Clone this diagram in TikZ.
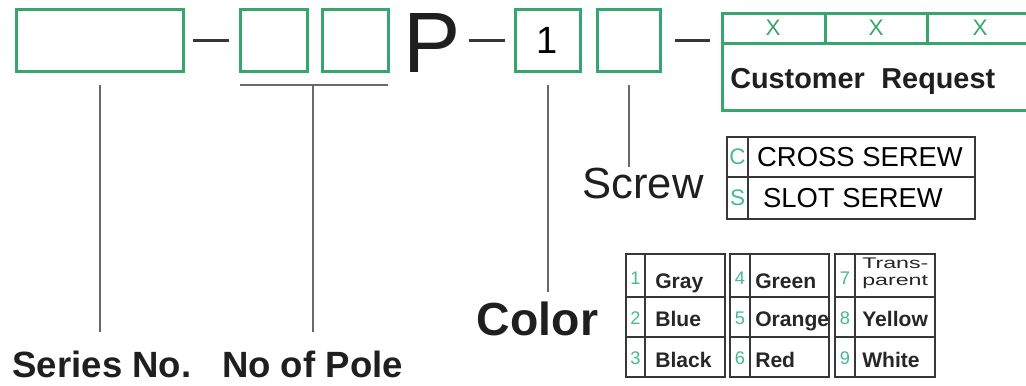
\documentclass[tikz,border=0pt]{standalone}
\usepackage{color}
\usepackage{graphicx}
\usepackage{fontspec}
\setmainfont{Liberation Sans}
\usepackage{tikz}
\definecolor{codegreen}{RGB}{55,165,110}
\definecolor{keygreen}{RGB}{70,185,145}
\definecolor{leadgray}{RGB}{105,105,105}
\definecolor{tabgray}{RGB}{55,55,55}
\tikzset{
	codebox/.style={draw=codegreen, line width=0.75mm, minimum height=15.5mm, inner sep=0pt, outer sep=0pt},
	sepline/.style={draw=tabgray, line width=0.75mm},
	lead/.style={draw=leadgray, line width=0.5mm},
	tabline/.style={draw=tabgray, line width=0.55mm},
	partlbl/.style={inner sep=0pt, anchor=base, text=black!88},
	keyltr/.style={inner sep=0pt, text=keygreen, font=\fontsize{13}{13}\selectfont},
	colname/.style={inner sep=0pt, anchor=base west, text=black!85, font=\bfseries\fontsize{15}{15}\selectfont}
}

\begin{document}
\begin{tikzpicture}[x=0.25mm, y=-0.25mm]
					\useasboundingbox (0,0) rectangle (1026,385);
					\node[codebox, minimum width=41.5mm] (series) at (100,40) {};
					\node[codebox, minimum width=16.75mm] (pole1) at (273.5,40) {};
					\node[codebox, minimum width=16.5mm] (pole2) at (355,40) {};
					\node[partlbl, font=\fontsize{61}{61}\selectfont] (ptxt) at (432,72) {P};
					\node[codebox, minimum width=16.25mm, font=\fontsize{27}{27}\selectfont] (color) at (547.5,40) {1};
					\node[codebox, minimum width=15.75mm] (screw) at (628.5,40) {};
					\node[codebox, minimum width=78mm, minimum height=24.25mm] (cust) at (878,61.5) {};
					\draw[draw=codegreen, line width=0.75mm] (722,43) -- (1034,43) (825,13) -- (825,43) (927,13) -- (927,43);
					\node[text=codegreen, font=\fontsize{16}{16}\selectfont] (x1) at (773,28) {X};
					\node[text=codegreen, font=\fontsize{16}{16}\selectfont] (x2) at (876,28) {X};
					\node[text=codegreen, font=\fontsize{16}{16}\selectfont] (x3) at (980,28) {X};
					\node[partlbl, anchor=base west, font=\bfseries\fontsize{20.5}{20.5}\selectfont] (custtxt) at (730,88) {Customer\hspace{0.3em} Request};
					\draw[sepline, shorten <=2.5mm, shorten >=2.75mm] (series) -- (pole1);
					\draw[sepline, shorten <=2mm, shorten >=2.5mm] (color.west -| ptxt.east) -- (color.west);
					\draw[sepline, shorten <=3.75mm, shorten >=3mm] (screw.east) -- (screw.east -| cust.west);
					\node[partlbl, font=\bfseries\fontsize{26}{26}\selectfont] (serieslbl) at (102,377) {Series No.};
					\node[partlbl, font=\bfseries\fontsize{26}{26}\selectfont] (polelbl) at (312.5,377) {No of Pole};
					\node[partlbl, font=\bfseries\fontsize{33}{33}\selectfont] (colorlbl) at (537.5,335) {Color};
					\node[partlbl, font=\fontsize{31}{31}\selectfont] (screwlbl) at (643,198) {Screw};
					\coordinate (polel) at ([yshift=-3.5mm]pole1.south west);
					\coordinate (poler) at ([yshift=-3.5mm]pole2.south east);
					\draw[lead] (polel) -- (poler);
					\draw[lead, shorten >=4.5mm] (polelbl.north |- polel) -- (polelbl.north);
					\draw[lead, shorten <=3.5mm, shorten >=4.5mm] (series.south) -- (series.south |- serieslbl.north);
					\draw[lead, shorten <=3.5mm, shorten >=2.25mm] (color.south) -- (color.south |- colorlbl.north);
					\draw[lead, shorten <=3.5mm] (screw.south) -- (screw.south |- screwlbl.north);
					\draw[tabline] (727,137) rectangle (975,219);
					\draw[tabline] (727,177) -- (975,177) (748,137) -- (748,219);
					\node[keyltr, font=\fontsize{16}{16}\selectfont] (keyc) at (737.5,157) {C};
					\node[keyltr, font=\fontsize{16}{16}\selectfont] (keys) at (737.5,198) {S};
					\node[inner sep=0pt, font=\fontsize{19.5}{19.5}\selectfont] (cross) at (860,157) {CROSS SEREW};
					\node[inner sep=0pt, font=\fontsize{19.5}{19.5}\selectfont] (slot) at (853,198) {SLOT SEREW};
					\draw[tabline] (626,254) rectangle (725,377);
					\draw[tabline] (645,254) -- (645,377) (626,297) -- (725,297) (626,337) -- (725,337);
					\draw[tabline] (730,254) rectangle (829,377);
					\draw[tabline] (750,254) -- (750,377) (730,297) -- (829,297) (730,337) -- (829,337);
					\draw[tabline] (835,254) rectangle (935,377);
					\draw[tabline] (855,254) -- (855,377) (835,297) -- (935,297) (835,337) -- (935,337);
					\node[keyltr] (k1) at (635.5,278) {1};
					\node[keyltr] (k2) at (635.5,318) {2};
					\node[keyltr] (k3) at (635.5,358) {3};
					\node[keyltr] (k4) at (740,278) {4};
					\node[keyltr] (k5) at (740,318) {5};
					\node[keyltr] (k6) at (740,358) {6};
					\node[keyltr] (k7) at (845,278) {7};
					\node[keyltr] (k8) at (845,318) {8};
					\node[keyltr] (k9) at (845,358) {9};
					\node[colname] (c1) at (655,288) {Gray};
					\node[colname] (c2) at (655,326) {Blue};
					\node[colname] (c3) at (655,367) {Black};
					\node[colname] (c4) at (755,288) {Green};
					\node[colname] (c5) at (755,326) {Orange};
					\node[colname] (c6) at (755,367) {Red};
					\node[inner sep=0pt, anchor=north west, align=left, text=black!85, font=\fontsize{11}{11.5}\selectfont] (c7) at (862,258) {\scalebox{1.5}[1]{Trans-}\\\scalebox{1.5}[1]{parent}};
					\node[colname] (c8) at (862,326) {Yellow};
					\node[colname] (c9) at (862,367) {White};
				\end{tikzpicture}
\end{document}
